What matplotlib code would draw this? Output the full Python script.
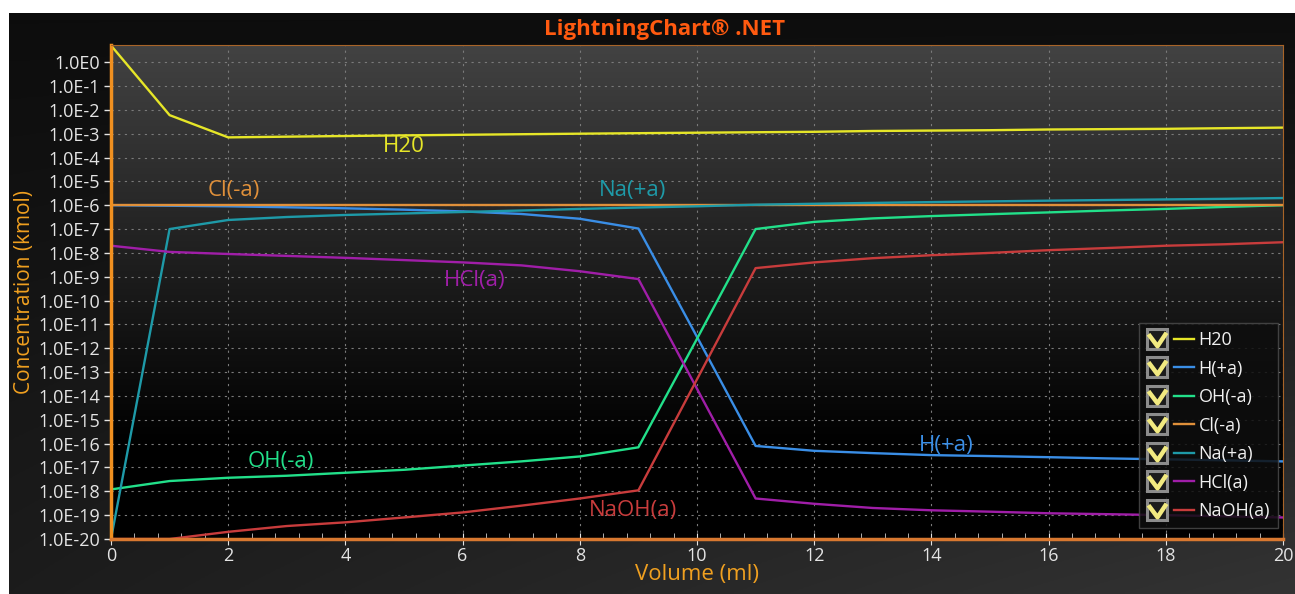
import matplotlib.pyplot as plt
import numpy as np
from matplotlib.lines import Line2D
from matplotlib.path import Path
from matplotlib.legend_handler import HandlerTuple
from matplotlib.ticker import FixedLocator, MultipleLocator, FuncFormatter

plt.rcParams['font.family'] = ['Open Sans', 'DejaVu Sans']

# Dados (volume em ml, concentração em kmol)
volume = list(range(21))
h2o = [5.0, 6e-3, 7e-4, 7.5e-4, 8e-4, 8.5e-4, 9e-4, 9.5e-4, 1.0e-3, 1.05e-3, 1.1e-3,
       1.15e-3, 1.2e-3, 1.3e-3, 1.35e-3, 1.4e-3, 1.5e-3, 1.55e-3, 1.6e-3, 1.7e-3, 1.8e-3]
h_mais = [1e-6, 9.5e-7, 9e-7, 8.2e-7, 7.4e-7, 6.5e-7, 5.5e-7, 4.3e-7, 2.7e-7, 1.05e-7, 3e-12,
          8e-17, 5e-17, 4e-17, 3.3e-17, 3e-17, 2.7e-17, 2.4e-17, 2.2e-17, 2e-17, 1.8e-17]
oh_menos = [1.2e-18, 2.7e-18, 3.7e-18, 4.5e-18, 6e-18, 8e-18, 1.2e-17, 1.8e-17, 2.9e-17, 7e-17, 2.5e-12,
            1e-7, 2e-7, 2.8e-7, 3.5e-7, 4.2e-7, 5e-7, 6e-7, 7e-7, 8.5e-7, 1e-6]
cl_menos = [1e-6] * 21
na_mais = [1e-20, 1e-7, 2.4e-7, 3.2e-7, 3.9e-7, 4.5e-7, 5.2e-7, 6e-7, 7e-7, 8e-7, 9e-7,
           1.05e-6, 1.15e-6, 1.25e-6, 1.35e-6, 1.45e-6, 1.55e-6, 1.65e-6, 1.75e-6, 1.85e-6, 2e-6]
hcl = [2e-8, 1.1e-8, 9e-9, 7.5e-9, 6.2e-9, 5e-9, 4e-9, 3e-9, 1.7e-9, 8e-10, 2e-14,
       5e-19, 3e-19, 2e-19, 1.6e-19, 1.4e-19, 1.2e-19, 1.1e-19, 1e-19, 9e-20, 8e-20]
naoh = [1e-20, 1e-20, 2e-20, 3.5e-20, 5e-20, 8e-20, 1.3e-19, 2.5e-19, 5e-19, 1.1e-18, 5e-14,
        2.3e-9, 4e-9, 6e-9, 8e-9, 1e-8, 1.3e-8, 1.6e-8, 2e-8, 2.3e-8, 2.8e-8]

nomes = ['H20', 'H(+a)', 'OH(-a)', 'Cl(-a)', 'Na(+a)', 'HCl(a)', 'NaOH(a)']
series = [h2o, h_mais, oh_menos, cl_menos, na_mais, hcl, naoh]
cores = ['#e6e628', '#3a8ee6', '#22e08a', '#e0903a', '#1e9aa8', '#a01ea8', '#c83c3c']
# posições dos rótulos (x, y)
rotulos = [(5.0, 3e-4), (14.25, 8e-17), (2.9, 1.8e-17), (2.1, 4e-6), (8.9, 4e-6), (6.2, 7e-10), (8.9, 1.6e-19)]

laranja = '#f09020'

fig = plt.figure(figsize=(12.95, 5.94), dpi=100, facecolor='white')

# Fundo escuro com gradiente
fundo = fig.add_axes([9 / 1295, 0, 1 - 9 / 1295, 1 - 13 / 594])
fundo.axis('off')
grad = np.linspace(0, 1, 256)
gx, gy = np.meshgrid(grad, grad)
img = 0.05 + 0.06 * gy + 0.09 * gx * gy
fundo.imshow(np.dstack([img, img, img]), aspect='auto', extent=[0, 1, 0, 1], origin='upper')
fundo.set_xlim(0, 1)
fundo.set_ylim(0, 1)

pos = [111 / 1295, 1 - 539 / 594, (1283 - 111) / 1295, (539 - 45) / 594]
fundo_plot = fig.add_axes(pos)
fundo_plot.axis('off')
g = np.clip(np.linspace(0.26, -0.06, 256), 0, 1)[:, None]
fundo_plot.imshow(np.dstack([g, g, g]), aspect='auto', extent=[0, 1, 0, 1], origin='upper')

ax = fig.add_axes(pos)
ax.set_facecolor('none')
ax.set_yscale('log')
ax.set_xlim(0, 20)
ax.set_ylim(1e-20, 10 ** 0.72)

for nome, valores, cor in zip(nomes, series, cores):
    ax.plot(volume, valores, color=cor, lw=1.7, clip_on=True)

for nome, (x, y), cor in zip(nomes, rotulos, cores):
    ax.text(x, y, nome, color=cor, fontsize=16, ha='center', va='center')

ax.yaxis.set_major_locator(FixedLocator([10.0 ** -k for k in range(21)]))
ax.yaxis.set_minor_locator(FixedLocator([]))
ax.yaxis.set_major_formatter(FuncFormatter(lambda v, p: '1.0E%d' % round(np.log10(v))))
ax.xaxis.set_major_locator(MultipleLocator(2))
ax.xaxis.set_minor_locator(MultipleLocator(0.4))

ax.tick_params(axis='both', colors='#e4e4e4', labelsize=13)
ax.tick_params(axis='y', length=5, width=1, pad=3)
ax.tick_params(axis='x', which='major', direction='inout', length=8, pad=2)
ax.tick_params(axis='x', which='minor', direction='in', length=4, color='#cccccc')

ax.grid(True, which='major', color='#7a7a7a', linestyle=(0, (2, 4)), linewidth=0.8)

ax.spines['left'].set_color(laranja)
ax.spines['left'].set_linewidth(2.5)
ax.spines['bottom'].set_color('#d87830')
ax.spines['bottom'].set_linewidth(2.5)
ax.spines['top'].set_color('#a86428')
ax.spines['right'].set_color('#a86428')

ax.set_xlabel('Volume (ml)', color='#f0a020', fontsize=16, labelpad=-1)
ax.set_ylabel('Concentration (kmol)', color='#f0a020', fontsize=15, labelpad=2)

fig.text(0.5135, 1 - 29 / 594, 'LightningChart® .NET', color='#ff5a10', fontsize=16,
         fontweight='bold', ha='center', va='center')

# Legenda com caixas de seleção
marca = Path([(-0.6, 0.35), (0.0, -0.45), (0.6, 0.45)], [Path.MOVETO, Path.LINETO, Path.LINETO])
handler_map = {tuple: HandlerTuple(ndivide=None, pad=0.4)}
handles = []
for cor in cores:
    caixa = Line2D([], [], marker='s', markersize=15, markerfacecolor='#1c1c1c',
                   markeredgecolor='#8c8c8c', markeredgewidth=2.2, linestyle='none')
    check = Line2D([], [], marker=marca, markersize=13, markerfacecolor='none',
                   markeredgecolor='#f2ea80', markeredgewidth=3.2, linestyle='none')
    linha = Line2D([], [], color=cor, lw=1.7)
    caixa_check = (caixa, check)
    handler_map[caixa_check] = HandlerTuple(ndivide=1)
    handles.append((caixa_check, linha))
leg = ax.legend(handles, nomes, handler_map=handler_map,
                loc='lower right', bbox_to_anchor=(0.996, 0.022), fontsize=13, labelcolor='#f0f0f0',
                facecolor='#0e0e0e', edgecolor='#4a4a4a', framealpha=0.85, fancybox=False,
                handlelength=2.6, handletextpad=0.25, labelspacing=0.58, borderpad=0.45,
                borderaxespad=0)

fig.savefig('out.png', dpi=100, facecolor=fig.get_facecolor())
